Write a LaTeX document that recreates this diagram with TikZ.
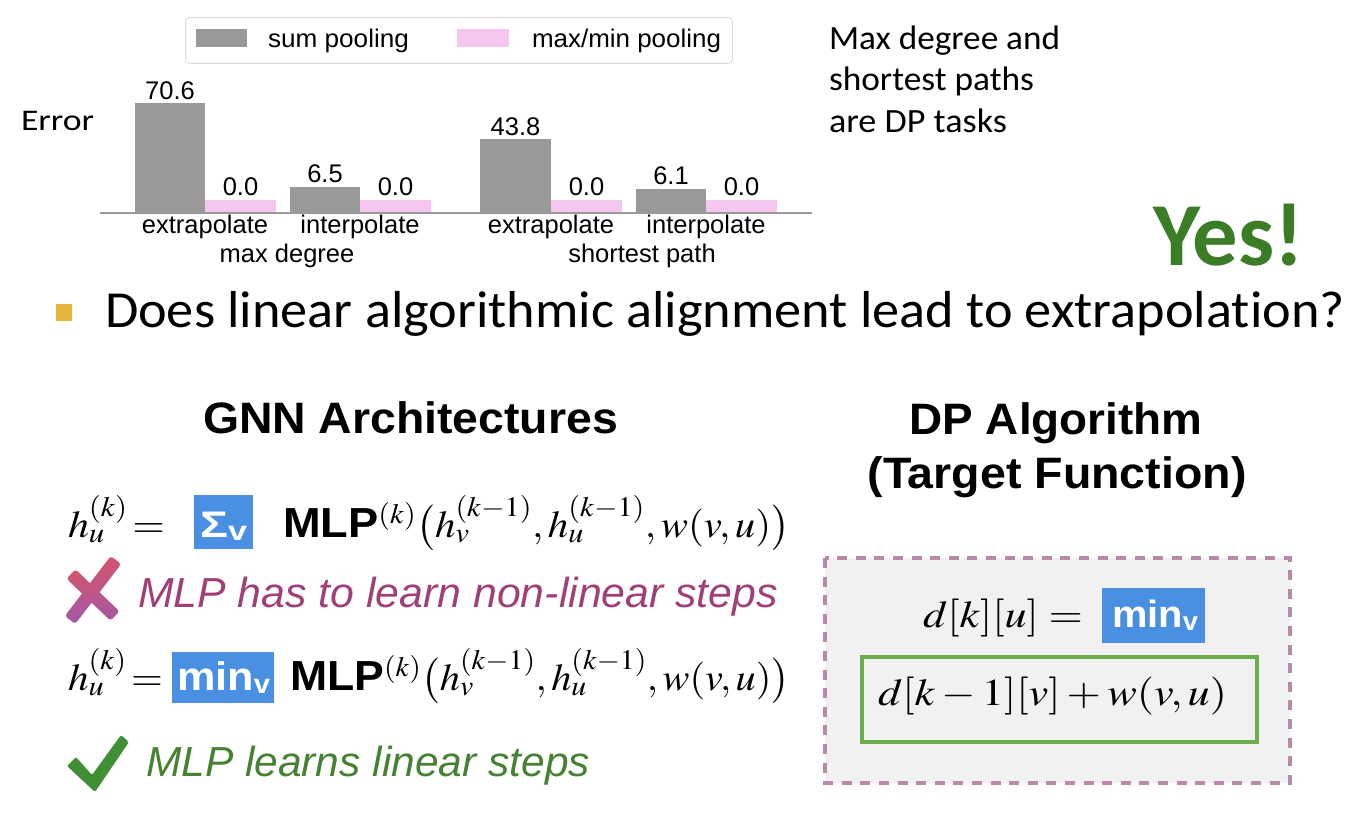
\documentclass[tikz,border=0pt]{standalone}
\usepackage{mathptmx}
\usepackage[no-math]{fontspec}
\usepackage{graphicx}
\newfontfamily\arial{Liberation Sans}
\newfontfamily\calibri[Ligatures=NoCommon]{Carlito}
\newsavebox\fitbox
\newcommand\fitto[2]{\sbox\fitbox{#2}\pgfmathsetmacro\fitsc{#1/\the\wd\fitbox}\scalebox{\fitsc}[1]{\usebox\fitbox}}
\definecolor{barg}{HTML}{999999}
\definecolor{barp}{HTML}{F5C6F0}
\definecolor{lgray}{HTML}{D8D8D8}
\definecolor{axisg}{HTML}{999999}
\definecolor{bul}{HTML}{E8B440}
\definecolor{yesg}{HTML}{3B7D27}
\definecolor{pinkt}{HTML}{A04078}
\definecolor{greent}{HTML}{468232}
\definecolor{blueb}{HTML}{4A90E2}
\definecolor{dashc}{HTML}{B98AA8}
\definecolor{boxg}{HTML}{6AAD4A}
\definecolor{fillg}{HTML}{F1F1F1}
\definecolor{xred}{HTML}{D4566A}
\definecolor{xpur}{HTML}{A457A8}
\definecolor{checkg}{HTML}{3F8F35}
\tikzset{
  lbl/.style={inner sep=0pt, outer sep=0pt},
  chart/.style={lbl, font=\arial\fontsize{25.5}{30}\selectfont},
  side/.style={lbl, font=\calibri\fontsize{34}{40}\selectfont},
  title/.style={lbl, font=\arial\bfseries\fontsize{44}{50}\selectfont},
  formula/.style={lbl, font=\fontsize{38}{46}\selectfont},
  remark/.style={lbl, font=\arial\itshape\fontsize{42}{50}\selectfont},
  bluebox/.style={fill=blueb, draw=none},
  bartag/.style={chart, anchor=base},
}
\newcommand\mlp{{\arial\bfseries\fontsize{42}{50}\selectfont MLP}}
\begin{document}
\begin{tikzpicture}[x=1pt,y=-1pt]
\useasboundingbox (0,0) rectangle (1370,822);
\fill[white] (0,0) rectangle (1370,822);

% ---------- legend ----------
\node[draw=lgray, rounded corners=4pt, line width=0.8pt, fill=white,
      minimum width=547pt, minimum height=46pt, anchor=north west, inner sep=0pt] (legend) at (185,17) {};
\fill[barg] (196,29) rectangle (247,47);
\node[chart, anchor=base west] (lsum) at (268,47) {\fitto{141}{sum pooling}};
\fill[barp] (457,29) rectangle (509,47);
\node[chart, anchor=base west] (lmax) at (532,47) {\fitto{189}{max/min pooling}};

% ---------- bars ----------
\fill[barg] (135,213) rectangle (205,103);
\fill[barp] (205,213) rectangle (276,200);
\fill[barg] (290,213) rectangle (360,187);
\fill[barp] (360,213) rectangle (431,200);
\fill[barg] (480,213) rectangle (551,139);
\fill[barp] (551,213) rectangle (622,200);
\fill[barg] (636,213) rectangle (706,189);
\fill[barp] (706,213) rectangle (777,200);
\draw[axisg, line width=1.5pt] (100,213) -- (812,213);

\node[bartag] (t1) at (170,99) {70.6};
\node[bartag] (t2) at (240.5,195) {0.0};
\node[bartag] (t3) at (325,182) {6.5};
\node[bartag] (t4) at (395.5,195) {0.0};
\node[bartag] (t5) at (515.5,135) {43.8};
\node[bartag] (t6) at (586.5,195) {0.0};
\node[bartag] (t7) at (671,184) {6.1};
\node[bartag] (t8) at (741.5,195) {0.0};

\node[bartag] (x1) at (205,233) {extrapolate};
\node[bartag] (x2) at (360,233) {interpolate};
\node[bartag] (x3) at (551,233) {extrapolate};
\node[bartag] (x4) at (706,233) {interpolate};
\node[bartag] (g1) at (287,262) {max degree};
\node[bartag] (g2) at (642,262) {shortest path};

\node[lbl, anchor=base west, font=\calibri\fontsize{30}{36}\selectfont] (err) at (21,130) {\fitto{73}{Error}};

% ---------- side note ----------
\node[side, anchor=base west] (s1) at (829,49) {\fitto{231}{Max degree and}};
\node[side, anchor=base west] (s2) at (829,90) {\fitto{205}{shortest paths}};
\node[side, anchor=base west] (s3) at (829,132) {\fitto{178}{are DP tasks}};
\node[lbl, anchor=base west, text=yesg, font=\calibri\bfseries\fontsize{90}{100}\selectfont] (yes) at (1153,265) {\fitto{151}{Yes!}};

% ---------- bullet ----------
\fill[bul] (56,304) rectangle (72,321);
\node[lbl, anchor=base west, font=\calibri\fontsize{52}{60}\selectfont] (q) at (105,327)
  {\fitto{1240}{Does linear algorithmic alignment lead to extrapolation?}};

% ---------- titles ----------
\node[title, anchor=base west] (gnn) at (203,433) {\fitto{415}{GNN Architectures}};
\node[title, anchor=base] (dp1) at (1056,434) {\fitto{293}{DP Algorithm}};
\node[title, anchor=base] (dp2) at (1057,488) {\fitto{379}{(Target Function)}};

% ---------- GNN formulas ----------
\node[formula, anchor=base west] (f1a) at (68,537) {\fitto{97}{$h_u^{(k)}\!=$}};
\node[bluebox, minimum width=59pt, minimum height=54pt, anchor=north west, inner sep=0pt] (sig) at (194,495) {};
\node[lbl, text=white, anchor=base] (sigt) at ([yshift=-15pt]sig.center)
  {\fitto{47}{\arial\bfseries\fontsize{37}{40}\selectfont Σ\raisebox{-3pt}{\fontsize{27}{30}\selectfont v}}};
\node[formula, anchor=base west] (f1b) at (283,537)
  {\fitto{507}{\mlp$^{(k)}\bigl(h_v^{(k-1)}, h_u^{(k-1)}, w(v,u)\bigr)$}};

% red cross
\shade[top color=xred, bottom color=xpur, rounded corners=3pt]
  (121.2,564) -- (110.8,556) -- (64.8,616) -- (75.2,624) -- cycle;
\shade[top color=xred, bottom color=xpur, rounded corners=3pt]
  (66.5,578.7) -- (110.5,620.7) -- (119.5,611.3) -- (75.5,569.3) -- cycle;
\node[remark, anchor=base west, text=pinkt] (r1) at (138,607)
  {\fitto{640}{MLP has to learn non-linear steps}};

\node[formula, anchor=base west] (f2a) at (68,690) {\fitto{95}{$h_u^{(k)}\!=$}};
\node[bluebox, minimum width=102pt, minimum height=51pt, anchor=north west, inner sep=0pt] (mn) at (172,652) {};
\node[lbl, text=white, anchor=base west] (mnt) at (177,690)
  {\fitto{93}{\arial\bfseries\fontsize{40}{44}\selectfont min\raisebox{-3pt}{\fontsize{27}{30}\selectfont v}}};
\node[formula, anchor=base west] (f2b) at (290,690)
  {\fitto{500}{\mlp$^{(k)}\bigl(h_v^{(k-1)}, h_u^{(k-1)}, w(v,u)\bigr)$}};

% green check
\fill[checkg, rounded corners=2pt]
  (67,766) -- (76,757) -- (92,775) -- (121,735) -- (129,742) -- (95,792) -- cycle;
\node[remark, anchor=base west, text=greent] (r2) at (146,776)
  {\fitto{444}{MLP learns linear steps}};

% ---------- DP box ----------
\draw[dashc, line width=4pt, dash pattern=on 10pt off 8.6pt, fill=fillg] (825,558) rectangle (1290,783);
\node[formula, anchor=base west] (d1) at (923,627) {\fitto{160}{$d[k][u] =$}};
\node[bluebox, minimum width=103pt, minimum height=55pt, anchor=north west, inner sep=0pt] (mn2) at (1102,588) {};
\node[lbl, text=white, anchor=base west] (mn2t) at (1112,627)
  {\fitto{86}{\arial\bfseries\fontsize{38}{44}\selectfont min\raisebox{-3pt}{\fontsize{26}{30}\selectfont v}}};
\node[draw=boxg, line width=4pt, minimum width=395pt, minimum height=85pt, anchor=north west, inner sep=0pt] (gb) at (860,655) {};
\node[formula, anchor=base west] (d2) at (878,705) {\fitto{349}{$d[k-1][v] + w(v,u)$}};
\end{tikzpicture}
\end{document}
